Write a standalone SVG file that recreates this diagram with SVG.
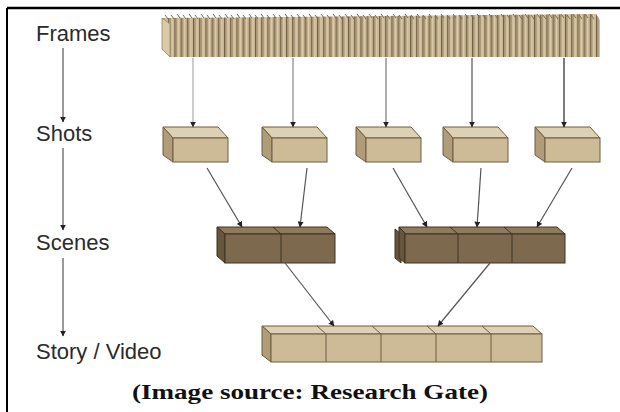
<svg xmlns="http://www.w3.org/2000/svg" width="620" height="412" viewBox="0 0 620 412">
<style>
.lbl{font-family:"Liberation Sans",Arial,sans-serif;font-size:22px;fill:#2b2b2b}
.cap{font-family:"Liberation Serif","Times New Roman",serif;font-size:22px;font-weight:bold;fill:#111}
.lt .top{fill:#ddd0b3}.lt .side{fill:#b09c78}.lt .front{fill:#cdbb98}
.lt polygon,.lt rect,.lt line{stroke:#6e5d42;stroke-width:1}
.dk .top{fill:#8e7b5e}.dk .side{fill:#67553c}.dk .front{fill:#7d6a4e}
.dk polygon,.dk rect,.dk line{stroke:#3d3222;stroke-width:1}
.conn line{stroke:#555;stroke-width:1.2}
</style>
<defs>
<marker id="ah" viewBox="0 0 10 10" refX="9" refY="5" markerWidth="6" markerHeight="6" orient="auto" markerUnits="userSpaceOnUse">
<path d="M0,0 L10,5 L0,10 z" fill="#222"/>
</marker>
<pattern id="frm" width="6.2" height="60" patternUnits="userSpaceOnUse" x="162" y="0">
<rect width="6.2" height="60" fill="#c9b795"/>
<rect x="0" width="1.2" height="60" fill="#6f5f45"/>
<rect x="1.2" width="1.4" height="60" fill="#a8946f"/>
<rect x="3.5" width="1" height="60" fill="#dccca9"/>
</pattern>
</defs>
<rect width="620" height="412" fill="#fff"/>
<line x1="7" y1="8" x2="620" y2="8" stroke="#000" stroke-width="2.5"/>
<line x1="7" y1="8" x2="7" y2="412" stroke="#000" stroke-width="2"/>

<g id="labels">
<text class="lbl" x="36" y="41">Frames</text>
<text class="lbl" x="36" y="141">Shots</text>
<text class="lbl" x="36" y="250">Scenes</text>
<text class="lbl" x="36" y="359">Story / Video</text>
</g>

<g id="frames">
<polygon points="162,18 596,14 600,20 600,57 170,57 162,49" fill="url(#frm)"/>
<polygon points="162,18 170,24 170,57 162,49" fill="#d9caa8" stroke="#9a8763" stroke-width="0.8"/>
<path d="M165,15 l3,4 M171,15 l3,4 M177,14 l3,4 M183,15 l3,4 M189,14 l3,4 M195,15 l3,4 M201,14 l3,4 M207,15 l3,4 M213,14 l3,4 M219,15 l3,4 M225,14 l3,4 M231,15 l3,4 M237,14 l3,4 M243,15 l3,4 M249,14 l3,4 M255,15 l3,4 M261,14 l3,4 M267,15 l3,4 M273,14 l3,4 M279,15 l3,4 M285,14 l3,4 M291,15 l3,4 M297,14 l3,4 M303,15 l3,4 M309,14 l3,4 M315,15 l3,4 M321,14 l3,4 M327,15 l3,4 M333,14 l3,4 M339,15 l3,4 M345,14 l3,4 M351,15 l3,4 M357,14 l3,4 M363,15 l3,4 M369,14 l3,4 M375,15 l3,4 M381,14 l3,4 M387,15 l3,4 M393,14 l3,4 M399,15 l3,4 M405,14 l3,4 M411,15 l3,4 M417,14 l3,4 M423,15 l3,4 M429,14 l3,4 M435,15 l3,4 M441,14 l3,4 M447,15 l3,4 M453,14 l3,4 M459,15 l3,4 M465,14 l3,4 M471,15 l3,4 M477,14 l3,4 M483,15 l3,4 M489,14 l3,4 M495,15 l3,4 M501,14 l3,4 M507,15 l3,4 M513,14 l3,4 M519,15 l3,4 M525,14 l3,4 M531,15 l3,4 M537,14 l3,4 M543,15 l3,4 M549,14 l3,4 M555,15 l3,4 M561,14 l3,4 M567,15 l3,4 M573,14 l3,4 M579,15 l3,4 M585,14 l3,4 M591,15 l3,4" stroke="#7a6a4f" stroke-width="1" fill="none"/>
</g>

<g id="shot1" class="lt">
<polygon class="top" points="163,127 218,127 228,138 173,138"/>
<polygon class="side" points="163,127 173,138 173,162 163,155"/>
<rect class="front" x="173" y="138" width="55" height="24"/>
</g>
<g id="shot2" class="lt">
<polygon class="top" points="262,127 317,127 327,138 272,138"/>
<polygon class="side" points="262,127 272,138 272,162 262,155"/>
<rect class="front" x="272" y="138" width="55" height="24"/>
</g>
<g id="shot3" class="lt">
<polygon class="top" points="356,127 411,127 421,138 366,138"/>
<polygon class="side" points="356,127 366,138 366,162 356,155"/>
<rect class="front" x="366" y="138" width="55" height="24"/>
</g>
<g id="shot4" class="lt">
<polygon class="top" points="443,127 498,127 508,138 453,138"/>
<polygon class="side" points="443,127 453,138 453,162 443,155"/>
<rect class="front" x="453" y="138" width="55" height="24"/>
</g>
<g id="shot5" class="lt">
<polygon class="top" points="535,127 590,127 600,138 545,138"/>
<polygon class="side" points="535,127 545,138 545,162 535,155"/>
<rect class="front" x="545" y="138" width="55" height="24"/>
</g>

<g id="scene1" class="dk">
<polygon class="top" points="217,227 327,227 335,234 225,234"/>
<polygon class="side" points="217,227 225,234 225,263 217,256"/>
<rect class="front" x="225" y="234" width="110" height="29"/>
<line x1="273" y1="227" x2="281" y2="234"/>
<line x1="281" y1="234" x2="281" y2="263"/>
</g>
<g id="scene2" class="dk">
<polygon class="side" points="395,229 401,234 401,263 395,258"/>
<polygon class="top" points="399,227 557,227 565,234 403,234"/>
<polygon class="side" points="399,227 405,233 405,263 399,258"/>
<rect class="front" x="405" y="234" width="160" height="29"/>
<line x1="450" y1="227" x2="458" y2="234"/>
<line x1="458" y1="234" x2="458" y2="263"/>
<line x1="504" y1="227" x2="512" y2="234"/>
<line x1="512" y1="234" x2="512" y2="263"/>
</g>

<g id="story" class="lt">
<polygon class="top" points="262,326 533,326 542,334 271,334"/>
<polygon class="side" points="262,326 271,334 271,362 262,355"/>
<rect class="front" x="271" y="334" width="271" height="28"/>
<line x1="317" y1="326" x2="326" y2="334"/><line x1="326" y1="334" x2="326" y2="362"/>
<line x1="372" y1="326" x2="381" y2="334"/><line x1="381" y1="334" x2="381" y2="362"/>
<line x1="427" y1="326" x2="436" y2="334"/><line x1="436" y1="334" x2="436" y2="362"/>
<line x1="482" y1="326" x2="491" y2="334"/><line x1="491" y1="334" x2="491" y2="362"/>
</g>

<g id="connectors" class="conn">
<line x1="63" y1="48" x2="63" y2="122" marker-end="url(#ah)"/>
<line x1="63" y1="148" x2="63" y2="230" marker-end="url(#ah)"/>
<line x1="63" y1="258" x2="63" y2="336" marker-end="url(#ah)"/>
<line x1="193" y1="58" x2="193" y2="127" marker-end="url(#ah)" style="stroke:#aaa"/>
<line x1="293" y1="58" x2="293" y2="127" marker-end="url(#ah)" style="stroke:#888"/>
<line x1="386" y1="58" x2="386" y2="127" marker-end="url(#ah)" style="stroke:#777"/>
<line x1="472" y1="58" x2="472" y2="127" marker-end="url(#ah)" style="stroke:#555"/>
<line x1="564" y1="58" x2="564" y2="127" marker-end="url(#ah)" style="stroke:#222"/>
<line x1="207" y1="168" x2="242" y2="227" marker-end="url(#ah)"/>
<line x1="307" y1="168" x2="300" y2="227" marker-end="url(#ah)"/>
<line x1="393" y1="168" x2="427" y2="227" marker-end="url(#ah)"/>
<line x1="481" y1="168" x2="477" y2="227" marker-end="url(#ah)"/>
<line x1="572" y1="168" x2="537" y2="227" marker-end="url(#ah)"/>
<line x1="285" y1="263" x2="334" y2="326" marker-end="url(#ah)"/>
<line x1="490" y1="263" x2="438" y2="326" marker-end="url(#ah)"/>
</g>

<text class="cap" x="310" y="399" text-anchor="middle" textLength="356" lengthAdjust="spacingAndGlyphs">(Image source: Research Gate)</text>
</svg>
